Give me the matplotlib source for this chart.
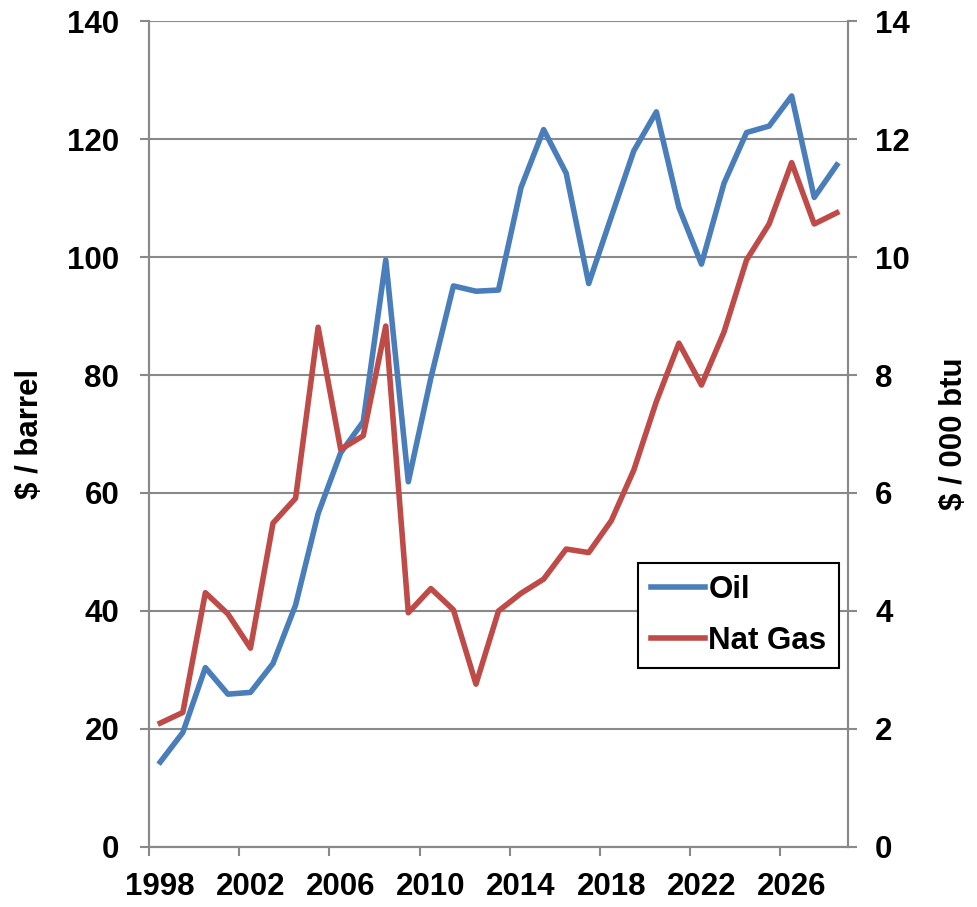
import matplotlib.pyplot as plt
import numpy as np

plt.rcParams['font.family'] = ['Liberation Sans', 'DejaVu Sans']
plt.rcParams['font.weight'] = 'bold'

# data
years = list(range(1998, 2029))
oil = [14.4, 19.4, 30.4, 25.9, 26.2, 31.1, 41.0, 56.5, 66.8, 72.1,
       99.5, 61.9, 79.5, 95.1, 94.2, 94.4, 111.8, 121.6, 114.2, 95.5,
       106.8, 118.0, 124.6, 108.4, 98.8, 112.5, 121.1, 122.2, 127.3, 110.1,
       115.6]
gas = [2.10, 2.28, 4.31, 3.95, 3.37, 5.49, 5.91, 8.81, 6.74, 6.97,
       8.83, 3.97, 4.38, 4.02, 2.76, 4.00, 4.30, 4.54, 5.05, 4.99,
       5.53, 6.39, 7.55, 8.54, 7.83, 8.73, 9.95, 10.56, 11.60, 10.56,
       10.75]
left_ticks = [0, 20, 40, 60, 80, 100, 120, 140]
right_ticks = [0, 2, 4, 6, 8, 10, 12, 14]

blue = '#4A7EBB'
red = '#BE4B48'
grey = '#898989'
fs = 22.5

x = np.arange(len(years))

fig = plt.figure(figsize=(9.77, 9.07), dpi=100)
ax = fig.add_axes([0.1525, 0.0662, 0.7155, 0.9106])
ax2 = ax.twinx()

l1, = ax.plot(x, oil, color=blue, lw=4, solid_joinstyle='round', label='Oil', zorder=3)
l2, = ax2.plot(x, gas, color=red, lw=4, solid_joinstyle='round', label='Nat Gas', zorder=3)

ax.set_xlim(-0.5, len(years) - 0.5)
ax.set_ylim(0, 140)
ax2.set_ylim(0, 14)
ax.set_yticks(left_ticks)
ax2.set_yticks(right_ticks)
ax.grid(axis='y', color=grey, lw=1.5)
ax.set_axisbelow(True)

# category-style x axis: labels every 4 years, tick marks between categories
ax.set_xticks(x[::4])
ax.set_xticklabels([str(y) for y in years[::4]])
ax.set_xticks(np.arange(-0.5, len(years), 4), minor=True)
ax.tick_params(axis='x', which='major', length=0, pad=18, labelsize=fs)
ax.tick_params(axis='x', which='minor', length=6.5, width=1.5, color=grey)
ax.tick_params(axis='y', length=6.5, width=1.5, color=grey, pad=15, labelsize=fs)
ax2.tick_params(axis='y', length=6.5, width=1.5, color=grey, pad=13, labelsize=fs)

for a in (ax, ax2):
    a.spines['top'].set_visible(False)
    for s in ('left', 'right', 'bottom'):
        a.spines[s].set_color(grey)
        a.spines[s].set_linewidth(1.5)

ax.set_ylabel('$ / barrel', fontsize=fs, fontweight='bold', labelpad=16)
ax2.set_ylabel('$ / 000 btu', fontsize=fs, fontweight='bold', rotation=90, labelpad=21)

leg = ax2.legend(handles=[l1, l2], loc='upper right', bbox_to_anchor=(0.987, 0.344),
                 borderaxespad=0, fancybox=False, edgecolor='black', framealpha=1,
                 fontsize=fs, handlelength=1.75, handletextpad=0.1,
                 labelspacing=0.65, borderpad=0.4)
leg.get_frame().set_linewidth(1.5)

fig.savefig('out.png', dpi=100)
